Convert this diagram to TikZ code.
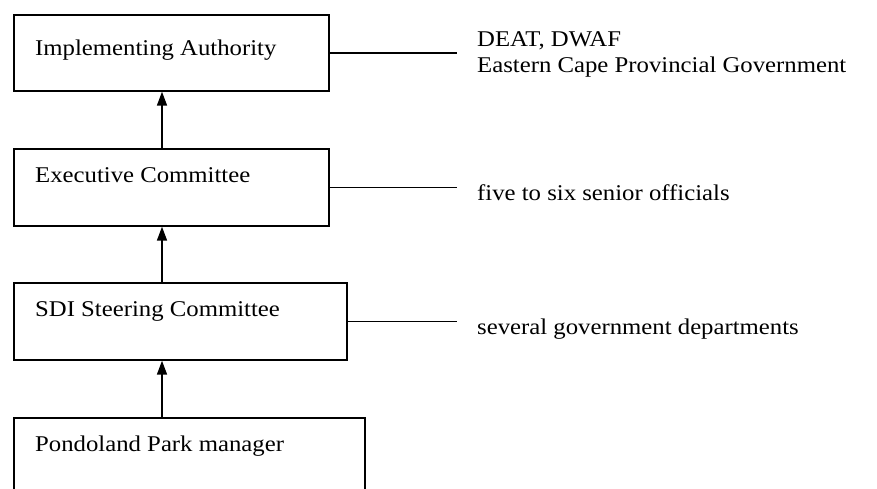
\documentclass[tikz,border=0pt]{standalone}
\usepackage{fontspec}
\setmainfont[FakeStretch=1.1]{Liberation Serif}
\usetikzlibrary{arrows.meta,calc}
\begin{document}
\begin{tikzpicture}[x=1pt,y=-1pt,
  orgbox/.style={draw,line width=1.7pt,anchor=north west,inner sep=0pt},
  boxtext/.style={anchor=base west,inner sep=0pt,font=\fontsize{22.5}{26}\selectfont},
  sidetext/.style={anchor=base west,inner sep=0pt,align=left,font=\fontsize{22.5}{26}\selectfont},
  upar/.style={line width=1.7pt,-{Triangle[length=14pt,width=10pt]}},
  tie/.style={line width=1.6pt}]
\useasboundingbox (0,0) rectangle (877,488);
% boxes
\node[orgbox,minimum width=315pt,minimum height=76pt] (b1) at (13,14) {};
\node[orgbox,minimum width=315pt,minimum height=77pt] (b2) at (13,148) {};
\node[orgbox,minimum width=333pt,minimum height=77pt] (b3) at (13,282) {};
\node[orgbox,minimum width=351pt,minimum height=90pt] (b4) at (13,417) {};
% box texts
\node[boxtext] (t1) at ($(b1.north west)+(22,41)$) {Implementing Authority};
\node[boxtext] (t2) at ($(b2.north west)+(22,34)$) {Executive Committee};
\node[boxtext] (t3) at ($(b3.north west)+(22,34)$) {SDI Steering Committee};
\node[boxtext] (t4) at ($(b4.north west)+(22,34)$) {Pondoland Park manager};
% arrows
\coordinate (ax) at (162,0);
\draw[upar] (ax |- b2.north) -- (ax |- b1.south);
\draw[upar] (ax |- b3.north) -- (ax |- b2.south);
\draw[upar] (ax |- b4.north) -- (ax |- b3.south);
% side connectors
\coordinate (e1) at (457,0);
\draw[tie] (b1.east) -- (e1 |- b1.east);
\draw[tie] (b2.east) -- (e1 |- b2.east);
\draw[tie] (b3.east) -- (e1 |- b3.east);
% side texts
\node[sidetext] (s1a) at (477,46) {DEAT, DWAF};
\node[sidetext] (s1b) at (477,72) {Eastern Cape Provincial Government};
\node[sidetext] (s2) at (477,200) {five to six senior officials};
\node[sidetext] (s3) at (477,334) {several government departments};
\end{tikzpicture}
\end{document}
